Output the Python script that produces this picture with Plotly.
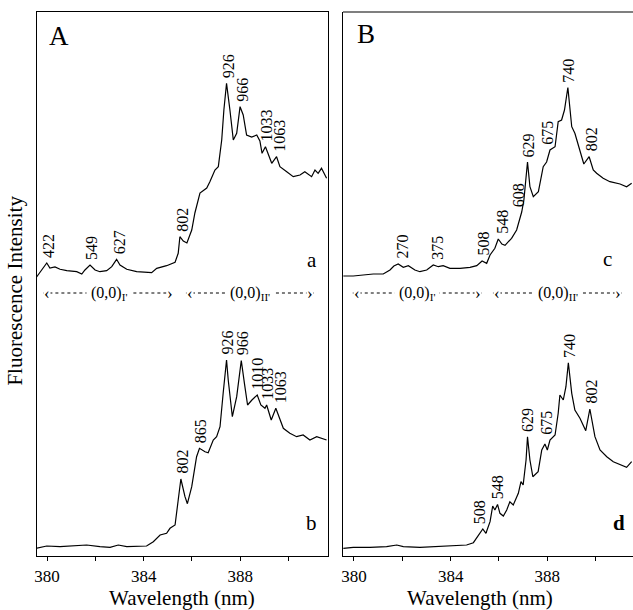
import numpy as np
import plotly.graph_objects as go

FONT = "Liberation Serif"

# ---------------- data (wavelength nm, intensity arb. units) ----------------
wl_a = [379.57, 379.99, 380.12, 380.33, 380.54, 380.82, 381.23, 381.44, 381.57, 381.78,
        381.99, 382.19, 382.47, 382.68, 382.88, 383.02, 383.30, 383.71, 384.33, 384.54,
        384.95, 385.30, 385.43, 385.50, 385.64, 385.79, 385.99, 386.12, 386.33, 386.61,
        386.74, 386.95, 387.09, 387.23, 387.32, 387.43, 387.57, 387.71, 387.85, 387.99,
        388.12, 388.26, 388.47, 388.68, 388.81, 388.90, 389.04, 389.16, 389.30, 389.50,
        389.64, 389.92, 390.19, 390.47, 390.67, 390.95, 391.09, 391.22, 391.36, 391.57]
int_a = [279, 293, 288, 289, 286.7, 285.3, 284.3, 282, 286, 291,
         286, 284.3, 285.3, 289.3, 296.7, 291, 286.7, 284.3, 283.3, 287.7,
         290.3, 293.7, 302.7, 319.3, 315, 313, 326, 343, 363, 368,
         374.3, 386, 389.3, 416, 446, 472.7, 446, 416, 422.7, 449.3,
         441, 421, 419, 421, 415, 402.7, 409.3, 401, 392.7, 399.3,
         389.3, 384.3, 379.3, 381, 384.3, 379.3, 386, 382.7, 387.7, 377.7]

wl_b = [379.57, 379.99, 380.54, 381.09, 381.64, 382.19, 382.61, 382.95, 383.30, 384.12,
        384.40, 384.68, 384.95, 385.09, 385.30, 385.43, 385.54, 385.71, 385.81, 385.99,
        386.19, 386.31, 386.54, 386.67, 386.88, 387.02, 387.16, 387.29, 387.43, 387.50,
        387.67, 387.85, 388.04, 388.17, 388.30, 388.48, 388.70, 388.85, 389.02, 389.09,
        389.28, 389.47, 389.67, 389.78, 390.05, 390.33, 390.60, 390.88, 391.16, 391.36,
        391.57]
int_b = [7.7, 10, 9.3, 10, 11, 9.3, 8.7, 11, 9.3, 10,
         14.3, 21, 22.7, 27.7, 31, 56, 77, 59.3, 52.3, 69.3,
         99.3, 107.7, 104.3, 103.3, 116, 119.3, 129.3, 162.7, 196, 176,
         139.3, 159.3, 195.5, 172.7, 151, 156, 161, 151, 147.7, 151,
         136, 147.7, 134.3, 127.7, 122.7, 119.3, 121, 116, 119.3, 117.7,
         116]

wl_c = [379.56, 379.97, 380.38, 380.80, 381.21, 381.49, 381.65, 381.83, 382.04, 382.25,
        382.52, 382.73, 383.01, 383.28, 383.49, 383.69, 383.97, 384.39, 384.80, 385.08,
        385.30, 385.49, 385.63, 385.83, 385.97, 386.12, 386.25, 386.52, 386.73, 386.87,
        386.94, 387.03, 387.18, 387.28, 387.42, 387.63, 387.83, 387.97, 388.11, 388.32,
        388.45, 388.59, 388.71, 388.85, 389.01, 389.14, 389.35, 389.51, 389.73, 389.90,
        390.04, 390.31, 390.59, 391.01, 391.28, 391.49]
int_c = [280, 280, 281, 282, 282, 286, 290, 292, 288.7, 290.3,
         286, 284.3, 286, 291, 289.3, 290.3, 287.7, 287.7, 288.7, 290.3,
         295, 292.7, 301, 307.7, 317, 312, 310.7, 317.7, 326, 339.3,
         344, 356, 394, 369.3, 359.3, 364.3, 389.3, 394, 406, 409.3,
         434.3, 436, 446, 468.5, 429.3, 422.7, 404.3, 392, 399.3, 386,
         382.7, 377.7, 374.3, 372, 369.3, 372.7]

wl_d = [379.56, 379.97, 380.66, 381.35, 381.77, 382.04, 382.73, 383.42, 384.11, 384.66,
        384.94, 385.14, 385.33, 385.46, 385.63, 385.74, 385.83, 385.94, 386.04, 386.18,
        386.32, 386.45, 386.59, 386.80, 386.91, 387.00, 387.12, 387.18, 387.28, 387.40,
        387.62, 387.77, 387.90, 388.00, 388.11, 388.32, 388.45, 388.52, 388.66, 388.77,
        388.87, 389.01, 389.14, 389.35, 389.59, 389.76, 389.97, 390.18, 390.46, 390.73,
        391.08, 391.28, 391.49]
int_d = [7.7, 8.7, 8.7, 9.3, 11, 9.3, 8.7, 9.3, 10, 11,
         13.3, 21, 27, 22.7, 34.3, 50, 46, 51.5, 42.7, 40,
         46, 54.3, 51, 62.7, 74.3, 71, 96, 119.3, 96, 79.3,
         84.3, 106, 112, 106, 116, 121, 142.7, 161, 156, 169.3,
         193.3, 162.7, 146, 137.7, 125.3, 147, 119.3, 106, 99.3, 94.3,
         91, 88.7, 94.3]

# peak labels (text, wavelength of label)
labels_a = [("422", 380.04), ("549", 381.82), ("627", 382.98), ("802", 385.63),
            ("926", 387.49), ("966", 388.11), ("1033", 389.10), ("1063", 389.64)]
labels_b = [("802", 385.57), ("865", 386.33), ("926", 387.43), ("966", 388.10),
            ("1010", 388.68), ("1033", 389.09), ("1063", 389.64)]
labels_c = [("270", 381.97), ("375", 383.42), ("508", 385.32), ("548", 386.11),
            ("608", 386.80), ("629", 387.22), ("675", 387.98), ("740", 388.87),
            ("802", 389.83)]
labels_d = [("508", 385.18), ("548", 385.95), ("629", 387.17), ("675", 387.93),
            ("740", 388.91), ("802", 389.79)]

# origin bands (subscript, start nm, end nm)
bands_A = [("I'", 379.85, 385.25), ("II'", 385.75, 391.05)]
bands_B = [("I'", 379.95, 385.30), ("II'", 385.75, 391.10)]

major_ticks = [380, 384, 388]

# ---------------- figure ----------------
fig = go.Figure()
series = [(wl_a, int_a, "x", "y"), (wl_b, int_b, "x", "y"),
          (wl_c, int_c, "x2", "y2"), (wl_d, int_d, "x2", "y2")]
for wl, inten, xa, ya in series:
    fig.add_trace(go.Scatter(x=wl, y=inten, mode="lines", xaxis=xa, yaxis=ya,
                             line=dict(color="black", width=1.2), showlegend=False,
                             hoverinfo="skip"))

ann = []


def peak_labels(labels, wl, inten, xr, yr):
    w = np.array(wl)
    v = np.array(inten)
    for txt, x in labels:
        m = (w >= x - 0.2) & (w <= x + 0.2)
        ytop = v[m].max() if m.any() else np.interp(x, w, v)
        ann.append(dict(x=x, y=ytop + 3, xref=xr, yref=yr, text=txt, textangle=-90,
                        xanchor="center", yanchor="bottom", showarrow=False,
                        font=dict(family=FONT, size=16, color="black")))


peak_labels(labels_a, wl_a, int_a, "x", "y")
peak_labels(labels_b, wl_b, int_b, "x", "y")
peak_labels(labels_c, wl_c, int_c, "x2", "y2")
peak_labels(labels_d, wl_d, int_d, "x2", "y2")

shapes = []
BAND_Y = 263


def bands(blist, xr, yr):
    for sub, x0, x1 in blist:
        shapes.append(dict(type="line", xref=xr, yref=yr, x0=x0, x1=x1, y0=BAND_Y, y1=BAND_Y,
                           line=dict(color="black", width=1, dash="dot")))
        ann.append(dict(x=x0, y=BAND_Y, xref=xr, yref=yr, text="\u2039", showarrow=False,
                        xanchor="left", yanchor="middle", bgcolor="white", borderpad=0,
                        font=dict(family=FONT, size=17, color="black")))
        ann.append(dict(x=x1, y=BAND_Y, xref=xr, yref=yr, text="\u203a", showarrow=False,
                        xanchor="right", yanchor="middle", bgcolor="white", borderpad=0,
                        font=dict(family=FONT, size=17, color="black")))
        ann.append(dict(x=(x0 + x1) / 2, y=BAND_Y, xref=xr, yref=yr,
                        text="(0,0)<sub>" + sub + "</sub>", showarrow=False,
                        xanchor="center", yanchor="middle", bgcolor="white", borderpad=4,
                        font=dict(family=FONT, size=16, color="black")))


bands(bands_A, "x", "y")
bands(bands_B, "x2", "y2")

# panel letters and spectrum letters
ann += [
    dict(x=380.0, y=520, xref="x", yref="y", text="A", showarrow=False, xanchor="left",
         yanchor="middle", font=dict(family=FONT, size=27, color="black")),
    dict(x=380.04, y=522, xref="x2", yref="y2", text="B", showarrow=False, xanchor="left",
         yanchor="middle", font=dict(family=FONT, size=27, color="black")),
    dict(x=390.96, y=296, xref="x", yref="y", text="a", showarrow=False,
         font=dict(family=FONT, size=21, color="black")),
    dict(x=390.96, y=33, xref="x", yref="y", text="b", showarrow=False,
         font=dict(family=FONT, size=21, color="black")),
    dict(x=390.47, y=297, xref="x2", yref="y2", text="c", showarrow=False,
         font=dict(family=FONT, size=21, color="black")),
    dict(x=390.96, y=33, xref="x2", yref="y2", text="<b>d</b>", showarrow=False,
         font=dict(family=FONT, size=21, color="black")),
    dict(x=-0.036, y=0.487, xref="paper", yref="paper", text="Fluorescence Intensity",
         textangle=-90, showarrow=False, xanchor="center", yanchor="middle",
         font=dict(family=FONT, size=21, color="black")),
    dict(x=385.6, y=-0.0775, xref="x", yref="paper", text="Wavelength (nm)", showarrow=False,
         xanchor="center", yanchor="middle", font=dict(family=FONT, size=21, color="black")),
    dict(x=385.2, y=-0.0775, xref="x2", yref="paper", text="Wavelength (nm)", showarrow=False,
         xanchor="center", yanchor="middle", font=dict(family=FONT, size=21, color="black")),
]

axis_common = dict(showgrid=False, zeroline=False, showline=True, linecolor="black",
                   linewidth=1.2, ticks="outside", ticklen=4, tickcolor="black",
                   tickvals=major_ticks,
                   minor=dict(dtick=2, tick0=380, ticks="outside", ticklen=4,
                              tickcolor="black", showgrid=False),
                   tickfont=dict(family=FONT, size=17, color="black"))

fig.update_layout(
    width=633, height=610,
    margin=dict(l=37, r=0, t=12, b=54),
    paper_bgcolor="white", plot_bgcolor="white",
    xaxis=dict(domain=[0, 0.4883], range=[379.586, 391.63], mirror=True, anchor="y",
               **axis_common),
    xaxis2=dict(domain=[0.5134, 1.0], range=[379.545, 391.545], mirror=False, anchor="y2",
                **axis_common),
    yaxis=dict(range=[0, 544], showticklabels=False, ticks="", showgrid=False, zeroline=False,
               showline=True, linecolor="black", linewidth=1.2, mirror=True, anchor="x"),
    yaxis2=dict(range=[0, 544], showticklabels=False, ticks="", showgrid=False, zeroline=False,
                showline=True, linecolor="black", linewidth=1.2, mirror=False, anchor="x2"),
    annotations=ann,
    shapes=shapes,
)
# top border for panel B
fig.add_shape(type="line", xref="x2 domain", yref="y2 domain", x0=0, x1=1, y0=1, y1=1,
              line=dict(color="black", width=1.2))

fig.write_html("out.html", config={"displayModeBar": False},
               post_script="document.body.style.margin='0';document.body.style.overflow='hidden';")
